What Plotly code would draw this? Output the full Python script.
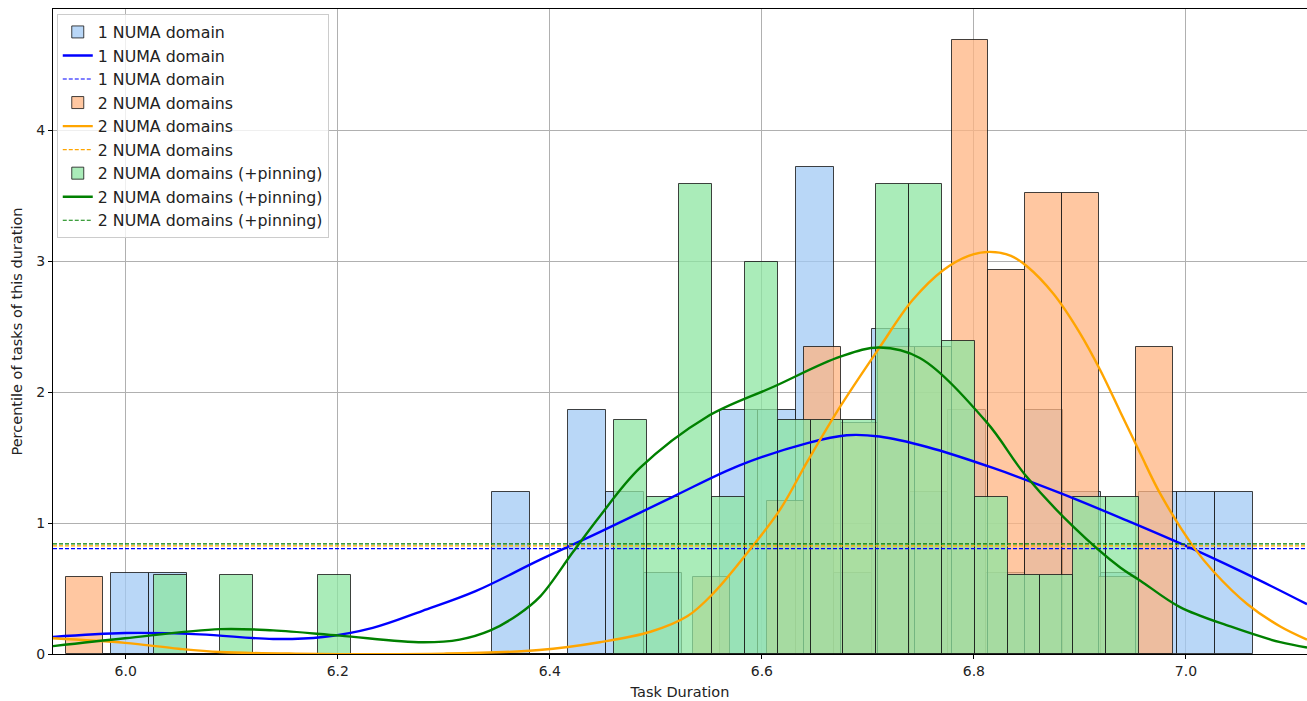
import plotly.graph_objects as go

# ---------------- data ----------------
series_names = ["1 NUMA domain", "2 NUMA domains", "2 NUMA domains (+pinning)"]

# histogram bins (start, width) and densities (30 bins each)
blue_bin_start = 5.9861
blue_bin_width = 0.035903
blue_density = [0.62, 0.62, 0, 0, 0, 0, 0, 0, 0, 0,
                1.24, 0, 1.86, 1.24, 0.62, 0, 1.86, 1.86, 3.72, 0.62,
                2.48, 1.24, 1.86, 0.62, 1.86, 1.24, 0.62, 1.24, 1.24, 1.24]

orange_bin_start = 5.9437
orange_bin_width = 0.0348
orange_density = [0.585, 0, 0, 0, 0, 0, 0, 0, 0, 0,
                  0, 0, 0, 0, 0, 0, 0, 0.585, 0, 1.17,
                  2.34, 1.76, 2.34, 2.34, 4.69, 2.93, 3.52, 3.52, 0.585, 2.34]

green_bin_start = 6.0267
green_bin_width = 0.030967
green_density = [0.6, 0, 0.6, 0, 0, 0.6, 0, 0, 0, 0,
                 0, 0, 0, 0, 1.79, 1.2, 3.59, 1.2, 2.99, 1.79,
                 1.79, 1.79, 3.59, 3.59, 2.39, 1.2, 0.6, 0.6, 1.2, 1.2]

# KDE curves
blue_kde_x = [5.9314, 5.9993, 6.070, 6.139, 6.186, 6.233, 6.280, 6.330, 6.391, 6.447,
              6.516, 6.579, 6.643, 6.680, 6.711, 6.756, 6.818, 6.881, 6.944, 7.007,
              7.070, 7.1142]
blue_kde_y = [0.13, 0.16, 0.15, 0.115, 0.13, 0.20, 0.33, 0.48, 0.72, 0.93,
              1.20, 1.44, 1.61, 1.67, 1.66, 1.58, 1.42, 1.23, 1.02, 0.80,
              0.56, 0.38]

orange_kde_x = [5.9314, 5.9993, 6.050, 6.089, 6.160, 6.300, 6.390, 6.447, 6.495, 6.530,
                6.555, 6.589, 6.617, 6.643, 6.674, 6.711, 6.742, 6.771, 6.795, 6.815,
                6.835, 6.850, 6.875, 6.900, 6.919, 6.938, 6.957, 6.976, 7.007, 7.026,
                7.058, 7.089, 7.1142]
orange_kde_y = [0.12, 0.085, 0.04, 0.015, 0.003, 0.003, 0.03, 0.09, 0.17, 0.29,
                0.47, 0.80, 1.10, 1.47, 1.89, 2.34, 2.70, 2.93, 3.04, 3.07,
                3.04, 2.96, 2.75, 2.45, 2.17, 1.85, 1.53, 1.22, 0.82, 0.63,
                0.38, 0.21, 0.11]

green_kde_x = [5.9314, 5.9993, 6.089, 6.139, 6.202, 6.280, 6.315, 6.344, 6.370, 6.391,
               6.422, 6.447, 6.485, 6.548, 6.611, 6.674, 6.711, 6.749, 6.812, 6.849,
               6.894, 6.938, 6.957, 6.994, 7.042, 7.089, 7.1142]
green_kde_y = [0.06, 0.12, 0.19, 0.18, 0.14, 0.09, 0.11, 0.18, 0.30, 0.44,
               0.78, 1.05, 1.42, 1.81, 2.04, 2.27, 2.34, 2.26, 1.77, 1.36,
               0.97, 0.66, 0.56, 0.36, 0.21, 0.09, 0.05]

# horizontal reference (dashed) levels
ref_levels = [0.805, 0.825, 0.84]

x_range = [5.9314, 7.1142]
y_range = [0, 4.924]
x_ticks = [6.0, 6.2, 6.4, 6.6, 6.8, 7.0]
y_ticks = [0, 1, 2, 3, 4]

# ---------------- styles ----------------
bar_fill = ["rgba(161,201,244,0.75)", "rgba(255,180,130,0.75)", "rgba(141,229,161,0.75)"]
line_col = ["blue", "orange", "green"]
FONT = "DejaVu Sans, Verdana, sans-serif"

hist = [
    (blue_bin_start, blue_bin_width, blue_density, blue_kde_x, blue_kde_y),
    (orange_bin_start, orange_bin_width, orange_density, orange_kde_x, orange_kde_y),
    (green_bin_start, green_bin_width, green_density, green_kde_x, green_kde_y),
]

fig = go.Figure()
rank = 1
for i, (start, width, dens, kx, ky) in enumerate(hist):
    centers = [start + width * (k + 0.5) for k in range(len(dens))]
    fig.add_trace(go.Bar(
        x=centers, y=dens, width=width, name=series_names[i],
        marker=dict(color=bar_fill[i], line=dict(color="rgba(20,20,20,0.8)", width=1)),
        legendrank=rank, hoverinfo="skip"))
    rank += 1
    fig.add_trace(go.Scatter(
        x=kx, y=ky, mode="lines", name=series_names[i],
        line=dict(color=line_col[i], width=2.4, shape="spline", smoothing=1.0),
        legendrank=rank, hoverinfo="skip"))
    rank += 1
    fig.add_trace(go.Scatter(
        x=x_range, y=[ref_levels[i]] * 2, mode="lines", name=series_names[i],
        line=dict(color=line_col[i], width=1.2, dash="4px,2px"),
        legendrank=rank, hoverinfo="skip"))
    rank += 1

axis_common = dict(
    showgrid=True, gridcolor="#b0b0b0", gridwidth=1,
    showline=True, linecolor="black", linewidth=1,
    ticks="outside", ticklen=4, tickcolor="black",
    tickfont=dict(family=FONT, size=14, color="#222"),
    zeroline=False,
)

fig.update_layout(
    width=1307, height=701,
    margin=dict(l=53, r=0, t=9, b=47),
    plot_bgcolor="white", paper_bgcolor="white",
    barmode="overlay", bargap=0,
    font=dict(family=FONT, size=14, color="#222"),
    xaxis=dict(range=x_range, tickvals=x_ticks, ticktext=[f"{v:.1f}" for v in x_ticks],
               mirror=True,
               title=dict(text="Task Duration", font=dict(family=FONT, size=14.5, color="#222"), standoff=9),
               **axis_common),
    yaxis=dict(range=y_range, tickvals=y_ticks,
               title=dict(text="Percentile of tasks of this duration",
                          font=dict(family=FONT, size=14.5, color="#222"), standoff=10),
               **axis_common),
    legend=dict(x=0.003, y=0.992, xanchor="left", yanchor="top",
                bgcolor="rgba(255,255,255,0.8)", bordercolor="#cccccc", borderwidth=1,
                font=dict(family=FONT, size=15.8, color="#222"),
                traceorder="normal", itemwidth=30),
    showlegend=True,
)

fig.write_html("out.html", config={"displayModeBar": False},
               post_script="document.body.style.margin='0';document.body.style.overflow='hidden';")
